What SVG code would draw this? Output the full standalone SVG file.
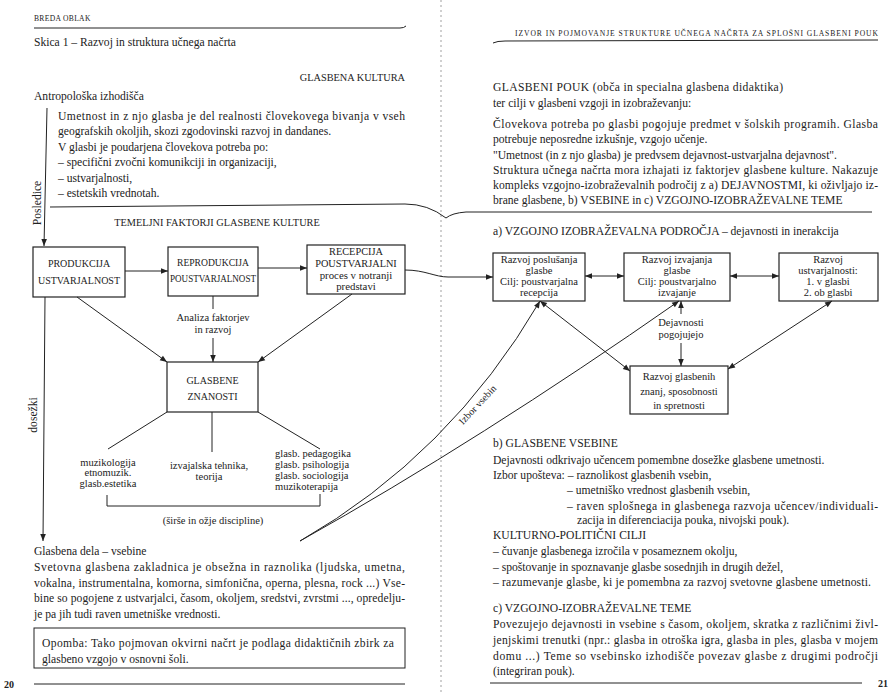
<svg xmlns="http://www.w3.org/2000/svg" width="896" height="694" viewBox="0 0 896 694">
<defs>
<marker id="ah" viewBox="0 0 10 10" refX="10" refY="5" markerWidth="8" markerHeight="7" orient="auto-start-reverse" markerUnits="userSpaceOnUse"><path d="M0,1 L10,5 L0,9 z" fill="#222"/></marker>
</defs>
<style>
text{font-family:"Liberation Serif","Times New Roman",serif;fill:#222}
.b{font-size:11.6px}
.c{font-size:10.3px}
.s{font-size:7.6px}
.d{font-size:10.5px}
.m{text-anchor:middle}
.bx{fill:#fff;stroke:#222;stroke-width:1.2}
.ln{fill:none;stroke:#222;stroke-width:1}
.ar{fill:none;stroke:#222;stroke-width:1;marker-end:url(#ah)}
.ar2{fill:none;stroke:#222;stroke-width:1;marker-start:url(#ah);marker-end:url(#ah)}
.gut{fill:none;stroke:#888;stroke-width:0.8;stroke-dasharray:2 3}
</style>
<rect width="896" height="694" fill="#fff"/>
<path class="gut" d="M441,0 L441,694"/>

<!-- LEFT PAGE -->
<g id="left-header">
<text class="s" x="34" y="21" letter-spacing="0.3">BREDA OBLAK</text>
<path class="ln" d="M34,28 L400,28 Q404,28 406,26"/>
<text class="b" x="34" y="46">Skica 1 – Razvoj in struktura učnega načrta</text>
</g>
<g id="glasbena-kultura">
<text class="c" x="405" y="81" text-anchor="end">GLASBENA KULTURA</text>
</g>
<g id="antropoloska">
<text class="b" x="34" y="100">Antropološka izhodišča</text>
<text class="b" x="58" y="120" textLength="347" lengthAdjust="spacing">Umetnost in z njo glasba je del realnosti človekovega bivanja v vseh</text>
<text class="b" x="58" y="135">geografskih okoljih, skozi zgodovinski razvoj in dandanes.</text>
<text class="b" x="58" y="151">V glasbi je poudarjena človekova potreba po:</text>
<text class="b" x="58" y="166">– specifični zvočni komunikciji in organizaciji,</text>
<text class="b" x="58" y="182">– ustvarjalnosti,</text>
<text class="b" x="58" y="197">– estetskih vrednotah.</text>
</g>
<g id="posledice-label">
<text class="b m" transform="translate(41,203) rotate(-90)">Posledice</text>
</g>
<g id="temeljni">
<text class="c m" x="217" y="226">TEMELJNI FAKTORJI GLASBENE KULTURE</text>
</g>
<g id="produkcija">
<rect class="bx" x="33" y="247" width="92" height="50"/>
<text class="m" font-size="10" x="79" y="267">PRODUKCIJA</text>
<text class="m" font-size="10" x="79" y="284">USTVARJALNOST</text>
</g>
<g id="reprodukcija">
<rect class="bx" x="168" y="247" width="90" height="49"/>
<text class="m" font-size="9.6" x="213" y="266">REPRODUKCIJA</text>
<text class="m" font-size="9.6" x="213" y="282" textLength="86" lengthAdjust="spacingAndGlyphs">POUSTVARJALNOST</text>
</g>
<g id="recepcija">
<rect class="bx" x="307" y="245" width="98" height="49"/>
<text class="m" font-size="10.3" x="356" y="255">RECEPCIJA</text>
<text class="m" font-size="10.3" x="356" y="267">POUSTVARJALNI</text>
<text class="m" font-size="10.8" x="356" y="279">proces v notranji</text>
<text class="m" font-size="10.8" x="356" y="290">predstavi</text>
</g>
<g id="analiza-label">
<text class="d m" x="213" y="321">Analiza faktorjev</text>
<text class="d m" x="213" y="333">in razvoj</text>
</g>
<g id="glasbene-znanosti">
<rect class="bx" x="167" y="362" width="91" height="50"/>
<text class="m" font-size="10" x="212.5" y="384">GLASBENE</text>
<text class="m" font-size="10" x="212.5" y="400">ZNANOSTI</text>
</g>
<g id="dosezki-label">
<text class="b m" transform="translate(37,415) rotate(-90)">dosežki</text>
</g>
<g id="discipline-1">
<text class="d m" x="108" y="466">muzikologija</text>
<text class="d m" x="108" y="476">etnomuzik.</text>
<text class="d m" x="108" y="487">glasb.estetika</text>
</g>
<g id="discipline-2">
<text class="d m" x="209" y="469">izvajalska tehnika,</text>
<text class="d m" x="209" y="480">teorija</text>
</g>
<g id="discipline-3">
<text class="d" x="275" y="457">glasb. pedagogika</text>
<text class="d" x="275" y="468">glasb. psihologija</text>
<text class="d" x="275" y="479">glasb. sociologija</text>
<text class="d" x="275" y="490">muzikoterapija</text>
</g>
<g id="sirse-label">
<text class="d m" x="213" y="524">(širše in ožje discipline)</text>
</g>
<g id="glasbena-dela">
<text class="b" x="34" y="555">Glasbena dela – vsebine</text>
<text class="b" x="34" y="571" textLength="371" lengthAdjust="spacing">Svetovna glasbena zakladnica je obsežna in raznolika (ljudska, umetna,</text>
<text class="b" x="34" y="587" textLength="371" lengthAdjust="spacing">vokalna, instrumentalna, komorna, simfonična, operna, plesna, rock ...) Vse-</text>
<text class="b" x="34" y="602" textLength="371" lengthAdjust="spacing">bine so pogojene z ustvarjalci, časom, okoljem, sredstvi, zvrstmi ..., opredelju-</text>
<text class="b" x="34" y="618">je pa jih tudi raven umetniške vrednosti.</text>
</g>
<g id="opomba">
<rect x="34" y="628" width="371" height="40" fill="none" stroke="#222" stroke-width="1"/>
<text class="b" x="42" y="647" textLength="352" lengthAdjust="spacing">Opomba: Tako pojmovan okvirni načrt je podlaga didaktičnih zbirk za</text>
<text class="b" x="42" y="663">glasbeno vzgojo v osnovni šoli.</text>
</g>
<g id="left-footer">
<text x="4" y="688" font-size="10" font-weight="bold">20</text>
<path class="ln" d="M34,684 L405,684"/>
</g>

<!-- RIGHT PAGE -->
<g id="right-header">
<text class="s" x="515" y="36" textLength="363" lengthAdjust="spacing">IZVOR IN POJMOVANJE STRUKTURE UČNEGA NAČRTA ZA SPLOŠNI GLASBENI POUK</text>
<path class="ln" d="M493,43 Q497,41 505,41 L878,40"/>
</g>
<g id="glasbeni-pouk">
<text class="b" x="493" y="91" textLength="290" lengthAdjust="spacing">GLASBENI POUK (obča in specialna glasbena didaktika)</text>
<text class="b" x="493" y="107">ter cilji v glasbeni vzgoji in izobraževanju:</text>
<text class="b" x="493" y="128" textLength="385" lengthAdjust="spacing">Človekova potreba po glasbi pogojuje predmet v šolskih programih. Glasba</text>
<text class="b" x="493" y="143">potrebuje neposredne izkušnje, vzgojo učenje.</text>
<text class="b" x="493" y="159">"Umetnost (in z njo glasba) je predvsem dejavnost-ustvarjalna dejavnost".</text>
<text class="b" x="493" y="174" textLength="385" lengthAdjust="spacing">Struktura učnega načrta mora izhajati iz faktorjev glasbene kulture. Nakazuje</text>
<text class="b" x="493" y="189" textLength="385" lengthAdjust="spacing">kompleks vzgojno-izobraževalnih področij z a) DEJAVNOSTMI, ki oživljajo iz-</text>
<text class="b" x="493" y="204">brane glasbene, b) VSEBINE in c) VZGOJNO-IZOBRAŽEVALNE TEME</text>
</g>
<g id="podrocja-heading">
<text class="b" x="493" y="235">a) VZGOJNO IZOBRAŽEVALNA PODROČJA – dejavnosti in inerakcija</text>
</g>
<g id="poslusanje">
<rect class="bx" x="493" y="253" width="92" height="48"/>
<text class="d m" x="539" y="263">Razvoj poslušanja</text>
<text class="d m" x="539" y="274">glasbe</text>
<text class="d m" x="539" y="285">Cilj: poustvarjalna</text>
<text class="d m" x="539" y="296">recepcija</text>
</g>
<g id="izvajanje">
<rect class="bx" x="624" y="253" width="106" height="48"/>
<text class="d m" x="677" y="263">Razvoj izvajanja</text>
<text class="d m" x="677" y="274">glasbe</text>
<text class="d m" x="677" y="285">Cilj: poustvarjalno</text>
<text class="d m" x="677" y="296">izvajanje</text>
</g>
<g id="ustvarjalnost">
<rect class="bx" x="779" y="253" width="99" height="48"/>
<text class="d m" x="828" y="263">Razvoj</text>
<text class="d m" x="828" y="274">ustvarjalnosti:</text>
<text class="d m" x="828" y="285">1. v glasbi</text>
<text class="d m" x="828" y="296">2. ob glasbi</text>
</g>
<g id="dejavnosti-label">
<text class="d m" x="681" y="326">Dejavnosti</text>
<text class="d m" x="681" y="338">pogojujejo</text>
</g>
<g id="znanja">
<rect class="bx" x="630" y="366" width="98" height="48"/>
<text class="d m" x="679" y="380">Razvoj glasbenih</text>
<text class="d m" x="679" y="395">znanj, sposobnosti</text>
<text class="d m" x="679" y="409">in spretnosti</text>
</g>
<g id="izbor-label">
<text class="m" font-size="10" transform="translate(480,407) rotate(-47)">Izbor vsebin</text>
</g>
<g id="glasbene-vsebine">
<text class="b" x="493" y="447">b) GLASBENE VSEBINE</text>
<text class="b" x="493" y="464">Dejavnosti odkrivajo učencem pomembne dosežke glasbene umetnosti.</text>
<text class="b" x="493" y="479">Izbor upošteva: – raznolikost glasbenih vsebin,</text>
<text class="b" x="567" y="494">– umetniško vrednost glasbenih vsebin,</text>
<text class="b" x="567" y="510" textLength="311" lengthAdjust="spacing">– raven splošnega in glasbenega razvoja učencev/individuali-</text>
<text class="b" x="577" y="524">zacija in diferenciacija pouka, nivojski pouk).</text>
</g>
<g id="kulturno-politicni">
<text class="b" x="493" y="539">KULTURNO-POLITIČNI CILJI</text>
<text class="b" x="493" y="555">– čuvanje glasbenega izročila v posameznem okolju,</text>
<text class="b" x="493" y="571">– spoštovanje in spoznavanje glasbe sosednjih in drugih dežel,</text>
<text class="b" x="493" y="586" textLength="378" lengthAdjust="spacing">– razumevanje glasbe, ki je pomembna za razvoj svetovne glasbene umetnosti.</text>
</g>
<g id="teme">
<text class="b" x="493" y="612">c) VZGOJNO-IZOBRAŽEVALNE TEME</text>
<text class="b" x="493" y="628" textLength="385" lengthAdjust="spacing">Povezujejo dejavnosti in vsebine s časom, okoljem, skratka z različnimi živl-</text>
<text class="b" x="493" y="644" textLength="385" lengthAdjust="spacing">jenjskimi trenutki (npr.: glasba in otroška igra, glasba in ples, glasba v mojem</text>
<text class="b" x="493" y="660" textLength="385" lengthAdjust="spacing">domu ...) Teme so vsebinsko izhodišče povezav glasbe z drugimi področji</text>
<text class="b" x="493" y="675">(integriran pouk).</text>
</g>
<g id="right-footer">
<path class="ln" d="M490,683 L862,683"/>
<text x="878" y="687" font-size="10" font-weight="bold">21</text>
</g>

<g id="connectors">
<path class="ln" d="M50,207 L405,204 Q428,204 446,218 Q452,213 466,212 L872,212"/>
<path class="ar" d="M47,108 L44,246"/>
<path class="ar" d="M125,271 L168,271"/>
<path class="ar" d="M258,268 L307,268"/>
<path class="ar" d="M405,270 C425,270 435,277 448,277 L493,277"/>
<path class="ln" d="M213,296 L213,309"/>
<path class="ar" d="M213,338 L213,362"/>
<path class="ar" d="M77,297 L167,362"/>
<path class="ar" d="M352,294 L258,362"/>
<path class="ln" d="M167,412 L108,449"/>
<path class="ln" d="M212,412 L212,452"/>
<path class="ln" d="M258,412 L320,449"/>
<path class="ln" d="M107,495 L107,506 L320,506 L320,494"/>
<path class="ar" d="M45,297 L43,541"/>
<path class="ar" d="M300,541 Q450,455 540,301"/>
<path class="ar" d="M300,541 Q480,440 679,301"/>
<path class="ar2" d="M585,276 L624,276"/>
<path class="ar2" d="M730,276 L779,276"/>
<path class="ar" d="M681,314 L681,301"/>
<path class="ar" d="M681,343 L681,366"/>
<path class="ar2" d="M832,301 L728,369"/>
<path class="ar2" d="M540,301 L630,371"/>
</g>
</svg>
